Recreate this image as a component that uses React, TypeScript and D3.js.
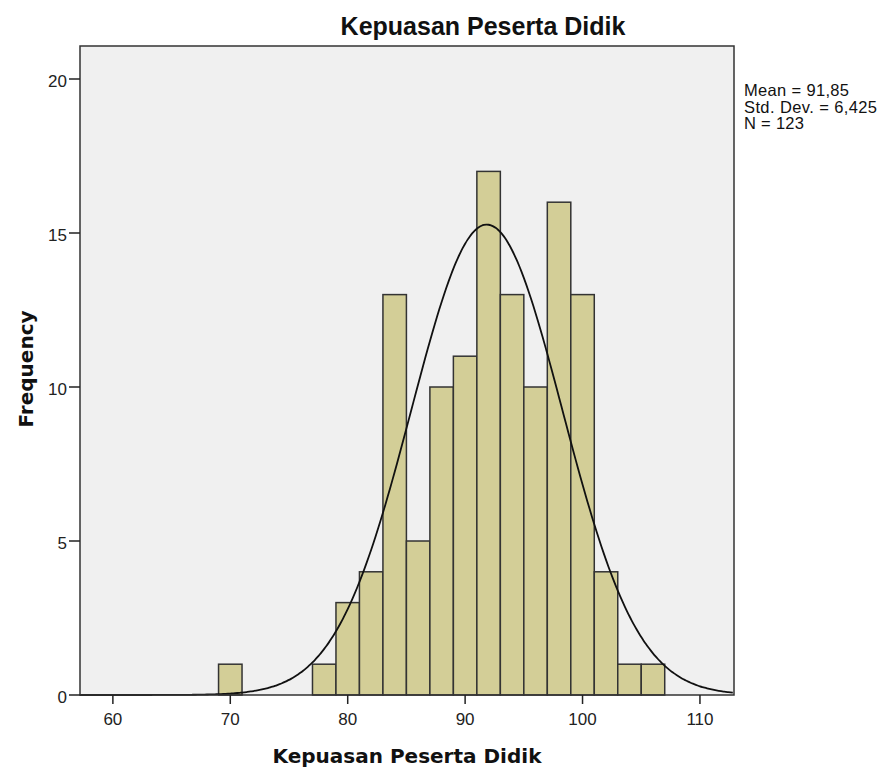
import React from "react";
import * as d3 from "d3";

const binStarts = [69, 77, 79, 81, 83, 85, 87, 89, 91, 93, 95, 97, 99, 101, 103, 105];
const binCounts = [1, 1, 3, 4, 13, 5, 10, 11, 17, 13, 10, 16, 13, 4, 1, 1];
const binWidth = 2;
const xTicks = [60, 70, 80, 90, 100, 110];
const yTicks = [0, 5, 10, 15, 20];
const meanVal = 91.85;
const sdVal = 6.425;
const nVal = 123;
const statsLines = ["Mean = 91,85", "Std. Dev. = 6,425", "N = 123"];

export default function App() {
  const W = 880, H = 767;
  const left = 80, right = 734, top = 46, bottom = 695;
  const x = d3.scaleLinear().domain([57.2, 112.9]).range([left, right]);
  const y = d3.scaleLinear().domain([0, 20]).range([bottom, 79]);
  const curvePts = d3.range(57.2, 112.9 + 0.001, 0.2).map((v) => {
    const pdf = Math.exp(-0.5 * ((v - meanVal) / sdVal) ** 2) / (sdVal * Math.sqrt(2 * Math.PI));
    return [v, nVal * binWidth * pdf] as [number, number];
  });
  const line = d3.line<[number, number]>().x((d) => x(d[0])).y((d) => y(d[1])).curve(d3.curveBasis);
  const font = "'Liberation Sans', Arial, sans-serif";
  const bold = "'DejaVu Sans', Verdana, sans-serif";
  const statsWidths = [105, 133, 60];
  return (
    <svg width={W} height={H} style={{ position: "absolute", left: 0, top: 0, background: "#fff" }}>
      <rect x={left} y={top} width={right - left} height={bottom - top} fill="#F0F0F0" />
      {binStarts.map((b, i) => (
        <rect key={i} x={x(b)} y={y(binCounts[i])} width={x(b + binWidth) - x(b)} height={bottom - y(binCounts[i])}
          fill="#D3CE97" stroke="#333" strokeWidth={1.5} />
      ))}
      <path d={line(curvePts) || ""} fill="none" stroke="#111" strokeWidth={1.8} />
      <rect x={left} y={top} width={right - left} height={bottom - top} fill="none" stroke="#333" strokeWidth={1.5} />
      {yTicks.map((t) => (
        <g key={t}>
          <line x1={left - 11} x2={left} y1={y(t)} y2={y(t)} stroke="#222" strokeWidth={1.5} />
          <text x={left - 13} y={y(t) + 8} textAnchor="end" fontFamily={font} fontSize={17} fill="#222">{t}</text>
        </g>
      ))}
      {xTicks.map((t) => (
        <g key={t}>
          <line x1={x(t)} x2={x(t)} y1={bottom} y2={bottom + 9} stroke="#222" strokeWidth={1.5} />
          <text x={x(t)} y={bottom + 30} textAnchor="middle" fontFamily={font} fontSize={17} fill="#222">{t}</text>
        </g>
      ))}
      <text x={483} y={35} textAnchor="middle" fontFamily={font} fontWeight="bold" fontSize={25} fill="#111">Kepuasan Peserta Didik</text>
      <text x={407} y={763} textAnchor="middle" fontFamily={bold} fontWeight="bold" fontSize={20} fill="#111">Kepuasan Peserta Didik</text>
      <text transform={`translate(33,369) rotate(-90)`} textAnchor="middle" fontFamily={bold} fontWeight="bold" fontSize={20} fill="#111">Frequency</text>
      {statsLines.map((s, i) => (
        <text key={i} x={744} y={96 + i * 16.5} fontFamily={font} fontSize={16.5} fill="#111"
          textLength={statsWidths[i]} lengthAdjust="spacing">{s}</text>
      ))}
    </svg>
  );
}
